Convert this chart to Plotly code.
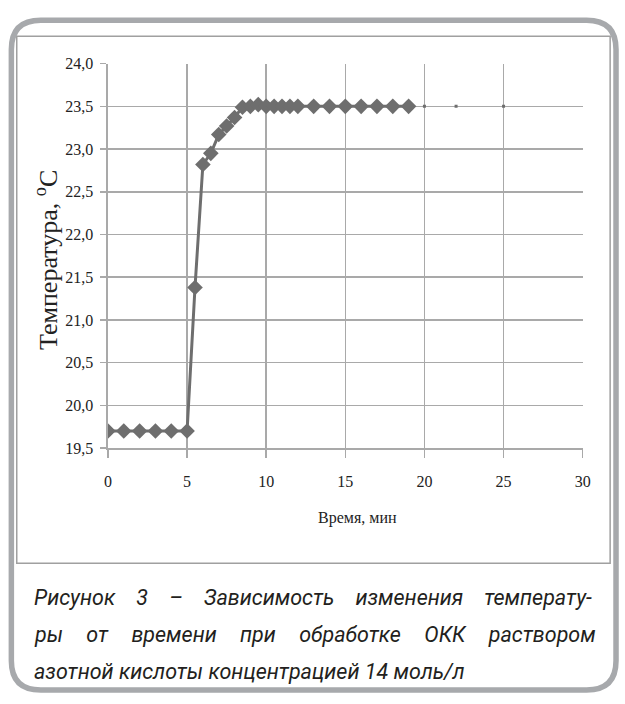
import plotly.graph_objects as go

# ---- data ----
time_min = [0, 1, 2, 3, 4, 5, 5.5, 6, 6.5, 7, 7.5, 8, 8.5, 9, 9.5, 10, 10.5,
            11, 11.5, 12, 13, 14, 15, 16, 17, 18, 19]
temp_c = [19.7, 19.7, 19.7, 19.7, 19.7, 19.7, 21.38, 22.82, 22.95, 23.17, 23.27,
          23.37, 23.49, 23.5, 23.52, 23.5, 23.5, 23.5, 23.5, 23.5, 23.5, 23.5,
          23.5, 23.5, 23.5, 23.5, 23.5]
tail_time = [20, 22, 25]
tail_temp = [23.5, 23.5, 23.5]

x_ticks = [0, 5, 10, 15, 20, 25, 30]
y_ticks = [19.5, 20.0, 20.5, 21.0, 21.5, 22.0, 22.5, 23.0, 23.5, 24.0]

caption_lines = [
    "Рисунок 3 – Зависимость изменения температу-",
    "ры от времени при обработке ОКК раствором",
    "азотной кислоты концентрацией 14 моль/л",
]
# justified lines get wider word gaps
caption_gap = [" \u00a0\u00a0\u00a0", " \u00a0\u00a0\u00a0\u200a", " "]

W, H = 625, 704
GRAY = "#6e6e6e"
GRID = "#a9a9a9"


def px(x):
    return x / W


def py(y):
    return 1 - y / H


fig = go.Figure()
fig.add_trace(go.Scatter(
    x=time_min, y=temp_c, mode="lines+markers",
    line=dict(color=GRAY, width=3),
    marker=dict(symbol="diamond", size=12, color=GRAY),
    showlegend=False, hoverinfo="skip"))
fig.add_trace(go.Scatter(
    x=tail_time, y=tail_temp, mode="markers",
    marker=dict(symbol="square", size=3, color=GRAY),
    showlegend=False, hoverinfo="skip"))

# plot area in pixels: x 106..590, y 57..451
fig.update_layout(
    width=W, height=H,
    margin=dict(l=0, r=0, t=0, b=0),
    paper_bgcolor="white", plot_bgcolor="white",
    separators=", ",
    xaxis=dict(
        domain=[px(106), px(590)], range=[0, 30],
        tickvals=x_ticks, ticktext=[str(v) for v in x_ticks],
        showgrid=True, gridcolor=GRID, gridwidth=1.5,
        showline=True, linecolor=GRID, linewidth=1.5,
        ticks="outside", ticklen=8, tickcolor=GRID, tickwidth=1.5,
        ticklabelstandoff=10,
        tickfont=dict(family="Liberation Serif", size=16, color="#222"),
        zeroline=False, fixedrange=True,
    ),
    yaxis=dict(
        domain=[py(451), py(57)], range=[19.5, 24.0],
        tickvals=y_ticks, tickformat=".1f",
        showgrid=True, gridcolor=GRID, gridwidth=1.5,
        showline=True, linecolor=GRID, linewidth=1.5,
        ticks="outside", ticklen=6, tickcolor=GRID, tickwidth=1.5,
        ticklabelstandoff=4,
        tickfont=dict(family="Liberation Serif", size=16, color="#222"),
        zeroline=False, fixedrange=True,
    ),
)

# axis titles
fig.add_annotation(text="Время, мин", x=px(360), y=py(523), xref="paper", yref="paper",
                   showarrow=False, xanchor="center", yanchor="middle",
                   font=dict(family="Liberation Serif", size=16, color="#222"))
fig.add_annotation(text="Температура, <sup>о</sup>С", x=px(44), y=py(258),
                   xref="paper", yref="paper", textangle=-90,
                   showarrow=False, xanchor="center", yanchor="middle",
                   font=dict(family="Liberation Serif", size=26, color="#222"))

# caption
cap_y = [604, 642, 680]
for line, gap, yy in zip(caption_lines, caption_gap, cap_y):
    txt = gap.join(line.split(" "))
    fig.add_annotation(text="<i>" + txt + "</i>", x=px(29), y=py(yy),
                       xref="paper", yref="paper", showarrow=False,
                       xanchor="left", yanchor="middle",
                       font=dict(family="Roboto", size=21.5, color="#231f20"))

# inner chart frame
fig.add_shape(type="rect", xref="paper", yref="paper",
              x0=px(13), x1=px(618), y0=py(569), y1=py(29),
              line=dict(color="#a0a0a0", width=1.5))

# outer rounded frame
x0, x1, y0, y1, r = 7.5, 624, 12.5, 699, 30
path = (f"M {px(x0 + r)},{py(y0)} L {px(x1 - r)},{py(y0)} "
        f"Q {px(x1)},{py(y0)} {px(x1)},{py(y0 + r)} L {px(x1)},{py(y1 - r)} "
        f"Q {px(x1)},{py(y1)} {px(x1 - r)},{py(y1)} L {px(x0 + r)},{py(y1)} "
        f"Q {px(x0)},{py(y1)} {px(x0)},{py(y1 - r)} L {px(x0)},{py(y0 + r)} "
        f"Q {px(x0)},{py(y0)} {px(x0 + r)},{py(y0)} Z")
fig.add_shape(type="path", xref="paper", yref="paper", path=path,
              line=dict(color="#a7a9ac", width=5.5))

fig.write_html("out.html",
               config=dict(displayModeBar=False, staticPlot=True),
               post_script="document.body.style.margin='0';"
                           "document.body.style.overflow='hidden';")
